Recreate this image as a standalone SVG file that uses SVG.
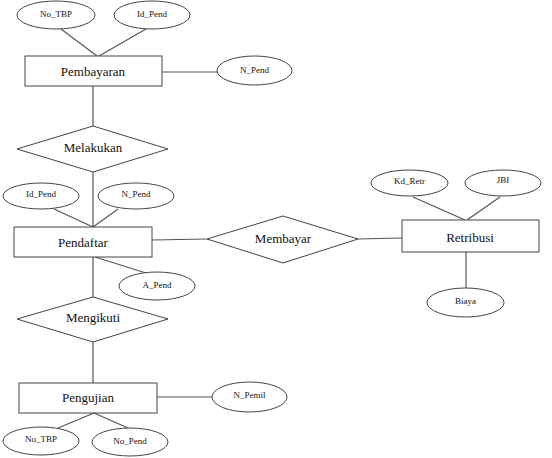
<svg xmlns="http://www.w3.org/2000/svg" width="552" height="458" viewBox="0 0 552 458">
<style>
.s{fill:#fff;stroke:#444;stroke-width:1}
.c line{stroke:#555;stroke-width:1.2}
text{font-family:'Liberation Serif','Times New Roman','DejaVu Serif',serif;fill:#111;text-anchor:middle;dominant-baseline:central}
.t{font-size:13px}
.a{font-size:9px}
</style>
<rect width="552" height="458" fill="#fff"/>
<g class="c" id="connectors">
<line x1="61" y1="29" x2="97" y2="56"/>
<line x1="146" y1="29" x2="99" y2="56"/>
<line x1="162" y1="72" x2="217" y2="72"/>
<line x1="93" y1="86" x2="93" y2="126"/>
<line x1="93" y1="172" x2="93" y2="227"/>
<line x1="54" y1="209" x2="93" y2="227"/>
<line x1="118" y1="209" x2="93" y2="227"/>
<line x1="152" y1="240" x2="207" y2="239"/>
<line x1="95" y1="257" x2="146" y2="273"/>
<line x1="93" y1="257" x2="93" y2="297"/>
<line x1="93" y1="342" x2="93" y2="383"/>
<line x1="157" y1="397" x2="212" y2="397"/>
<line x1="94" y1="413" x2="58" y2="428"/>
<line x1="94" y1="413" x2="128" y2="428"/>
<line x1="358" y1="239" x2="402" y2="238"/>
<line x1="413" y1="197" x2="465" y2="220"/>
<line x1="500" y1="197" x2="467" y2="220"/>
<line x1="466" y1="252" x2="466" y2="288"/>
</g>
<g id="pembayaran"><rect class="s" x="25" y="56" width="137" height="30"/><text class="t" x="93" y="71" font-family="Liberation Serif, serif">Pembayaran</text></g>
<g id="no_tbp1"><ellipse class="s" cx="56" cy="15" rx="39" ry="14"/><text class="a" x="56" y="14">No_TBP</text></g>
<g id="id_pend1"><ellipse class="s" cx="152" cy="15" rx="38" ry="14"/><text class="a" x="152" y="14">Id_Pend</text></g>
<g id="n_pend1"><ellipse class="s" cx="254.5" cy="70.5" rx="37.5" ry="14.5"/><text class="a" x="254.5" y="70">N_Pend</text></g>
<g id="melakukan"><polygon class="s" points="93,126 168,149 93,172 17,149"/><text class="t" x="93" y="147">Melakukan</text></g>
<g id="id_pend2"><ellipse class="s" cx="41" cy="196" rx="38" ry="13"/><text class="a" x="41" y="194">Id_Pend</text></g>
<g id="n_pend2"><ellipse class="s" cx="136" cy="196" rx="38" ry="13"/><text class="a" x="136" y="194">N_Pend</text></g>
<g id="pendaftar"><rect class="s" x="14" y="227" width="138" height="30"/><text class="t" x="83" y="242">Pendaftar</text></g>
<g id="a_pend"><ellipse class="s" cx="157" cy="286" rx="38" ry="14"/><text class="a" x="157" y="285">A_Pend</text></g>
<g id="mengikuti"><polygon class="s" points="93,297 168,319 93,342 17,319"/><text class="t" x="93" y="317">Mengikuti</text></g>
<g id="pengujian"><rect class="s" x="19" y="383" width="138" height="30"/><text class="t" x="88" y="397">Pengujian</text></g>
<g id="n_pemil"><ellipse class="s" cx="249.5" cy="397" rx="37.5" ry="15"/><text class="a" x="249.5" y="395">N_Pemil</text></g>
<g id="no_tbp2"><ellipse class="s" cx="41" cy="441" rx="38" ry="14"/><text class="a" x="41" y="439">No_TBP</text></g>
<g id="no_pend"><ellipse class="s" cx="130" cy="442" rx="38" ry="14"/><text class="a" x="130" y="441">No_Pend</text></g>
<g id="membayar"><polygon class="s" points="283,216 358,239 283,263 207,239"/><text class="t" x="283" y="238">Membayar</text></g>
<g id="retribusi"><rect class="s" x="402" y="220" width="137" height="32"/><text class="t" x="470" y="237">Retribusi</text></g>
<g id="kd_retr"><ellipse class="s" cx="409.5" cy="183" rx="38.5" ry="13"/><text class="a" x="409.5" y="181">Kd_Retr</text></g>
<g id="jbi"><ellipse class="s" cx="503" cy="183" rx="38" ry="13"/><text class="a" x="503" y="180">JBI</text></g>
<g id="biaya"><ellipse class="s" cx="465.5" cy="302.5" rx="38.5" ry="14.5"/><text class="a" x="465.5" y="301">Biaya</text></g>
</svg>
